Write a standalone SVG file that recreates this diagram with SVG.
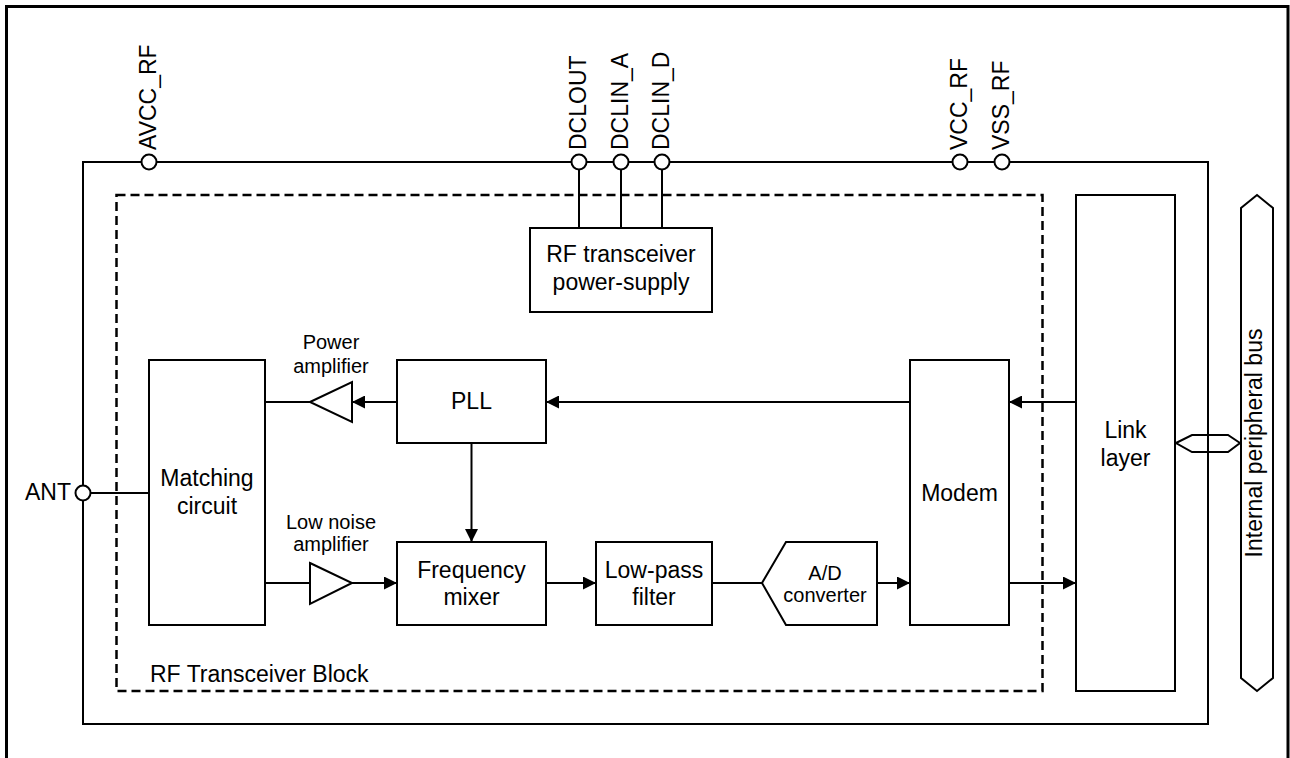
<svg xmlns="http://www.w3.org/2000/svg" width="1290" height="758" viewBox="0 0 1290 758">
<style>
  .ln{fill:none;stroke:#000;stroke-width:2}
  .box{fill:#fff;stroke:#000;stroke-width:2}
  .t{font-family:"Liberation Sans",Arial,sans-serif;font-size:23px;fill:#000;text-anchor:middle}
  .ts{font-family:"Liberation Sans",Arial,sans-serif;font-size:20px;fill:#000;text-anchor:middle}
  .pin{font-family:"Liberation Sans",Arial,sans-serif;font-size:23px;fill:#000}
  .pc{fill:#fff;stroke:#000;stroke-width:2}
</style>
<defs>
  <marker id="ah" markerWidth="13" markerHeight="13" refX="13" refY="6.5" orient="auto" markerUnits="userSpaceOnUse">
    <path d="M0,0 L13,6.5 L0,13 Z" fill="#000"/>
  </marker>
</defs>
<rect x="0" y="0" width="1290" height="758" fill="#fff"/>
<g id="frame">
  <path d="M6.5,758 V6.5 H1288 V758" fill="none" stroke="#000" stroke-width="3"/>
</g>
<g id="rf-block-outer">
  <rect x="83" y="162" width="1125" height="562" class="ln"/>
</g>
<g id="rf-transceiver-block">
  <rect x="116.5" y="195" width="926" height="496" fill="none" stroke="#000" stroke-width="2.5" stroke-dasharray="9,5"/>
  <text class="t" x="150" y="682" style="text-anchor:start">RF Transceiver Block</text>
</g>
<g id="connectors">
  <path class="ln" d="M579,169.5 V228 M621,169.5 V228 M662,169.5 V228"/>
  <path class="ln" d="M91,493 H149"/>
  <path class="ln" d="M265,402 H310"/>
  <path class="ln" d="M397,402 H352" marker-end="url(#ah)"/>
  <path class="ln" d="M910,402 H546" marker-end="url(#ah)"/>
  <path class="ln" d="M1076,402 H1009" marker-end="url(#ah)"/>
  <path class="ln" d="M471.5,443 V542" marker-end="url(#ah)"/>
  <path class="ln" d="M265,583 H310"/>
  <path class="ln" d="M352,583 H397" marker-end="url(#ah)"/>
  <path class="ln" d="M546,583 H596" marker-end="url(#ah)"/>
  <path class="ln" d="M712,583 H762"/>
  <path class="ln" d="M877,583 H910" marker-end="url(#ah)"/>
  <path class="ln" d="M1009,583 H1076" marker-end="url(#ah)"/>
</g>
<g id="bus-link">
  <polygon points="1176,443 1192,435 1228,435 1240,443 1228,452 1192,452" class="box" stroke-width="1.5"/>
  <path d="M1208,430 V456" class="ln"/>
</g>
<g id="pin-AVCC_RF">
  <circle cx="149" cy="162" r="7.5" class="pc"/>
  <text class="pin" transform="translate(156,150) rotate(-90)">AVCC_RF</text>
</g>
<g id="pin-DCLOUT">
  <circle cx="579" cy="162" r="7.5" class="pc"/>
  <text class="pin" transform="translate(586,150) rotate(-90)">DCLOUT</text>
</g>
<g id="pin-DCLIN_A">
  <circle cx="621" cy="162" r="7.5" class="pc"/>
  <text class="pin" transform="translate(628,150) rotate(-90)">DCLIN_A</text>
</g>
<g id="pin-DCLIN_D">
  <circle cx="662" cy="162" r="7.5" class="pc"/>
  <text class="pin" transform="translate(669,150) rotate(-90)">DCLIN_D</text>
</g>
<g id="pin-VCC_RF">
  <circle cx="960" cy="162" r="7.5" class="pc"/>
  <text class="pin" transform="translate(967,150) rotate(-90)">VCC_RF</text>
</g>
<g id="pin-VSS_RF">
  <circle cx="1002" cy="162" r="7.5" class="pc"/>
  <text class="pin" transform="translate(1009,150) rotate(-90)">VSS_RF</text>
</g>
<g id="pin-ANT">
  <circle cx="83" cy="493" r="7.5" class="pc"/>
  <text class="pin" x="71" y="500" style="text-anchor:end">ANT</text>
</g>
<g id="power-supply">
  <rect x="530" y="228" width="182" height="84" class="box"/>
  <text class="t" x="621" y="262">RF transceiver</text>
  <text class="t" x="621" y="290">power-supply</text>
</g>
<g id="matching-circuit">
  <rect x="149" y="360" width="116" height="265" class="box"/>
  <text class="t" x="207" y="486">Matching</text>
  <text class="t" x="207" y="514">circuit</text>
</g>
<g id="power-amplifier">
  <polygon points="310,402 352,382 352,422" class="box"/>
  <text class="ts" x="331" y="349">Power</text>
  <text class="ts" x="331" y="373">amplifier</text>
</g>
<g id="low-noise-amplifier">
  <polygon points="310,563 352,583 310,604" class="box"/>
  <text class="ts" x="331" y="529">Low noise</text>
  <text class="ts" x="331" y="551">amplifier</text>
</g>
<g id="pll">
  <rect x="397" y="360" width="149" height="83" class="box"/>
  <text class="t" x="471.5" y="409">PLL</text>
</g>
<g id="frequency-mixer">
  <rect x="397" y="542" width="149" height="83" class="box"/>
  <text class="t" x="471.5" y="577.5">Frequency</text>
  <text class="t" x="471.5" y="605">mixer</text>
</g>
<g id="low-pass-filter">
  <rect x="596" y="542" width="116" height="83" class="box"/>
  <text class="t" x="654" y="577.5">Low-pass</text>
  <text class="t" x="654" y="605">filter</text>
</g>
<g id="ad-converter">
  <polygon points="762,583 786,542 877,542 877,625 786,625" class="box"/>
  <text class="ts" x="825" y="580">A/D</text>
  <text class="ts" x="825" y="602">converter</text>
</g>
<g id="modem">
  <rect x="910" y="360" width="99" height="265" class="box"/>
  <text class="t" x="959.5" y="501">Modem</text>
</g>
<g id="link-layer">
  <rect x="1076" y="195" width="99" height="496" class="box"/>
  <text class="t" x="1125.5" y="438">Link</text>
  <text class="t" x="1125.5" y="466">layer</text>
</g>
<g id="internal-peripheral-bus">
  <polygon points="1257,195 1273,208 1273,678 1257,691 1241,678 1241,208" class="box"/>
  <text class="t" transform="translate(1262,443) rotate(-90)">Internal peripheral bus</text>
</g>
</svg>
